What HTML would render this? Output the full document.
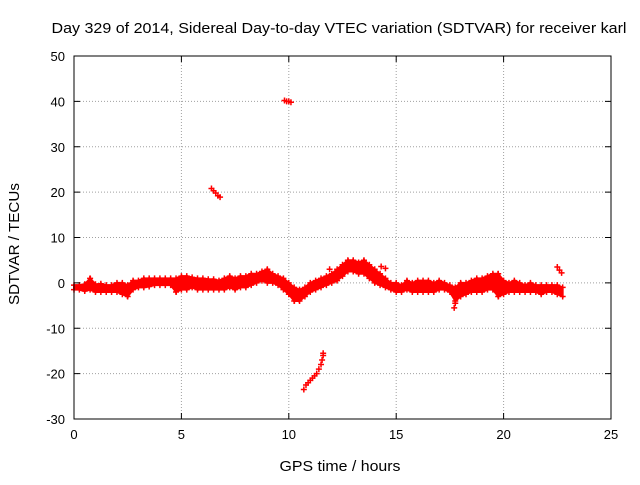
<!DOCTYPE html>
<html><head><meta charset="utf-8"><style>
html,body{margin:0;padding:0;background:#fff;}
svg text{font-family:"Liberation Sans",Arial,sans-serif;font-size:13px;fill:#000;}
svg text.big{font-size:15px;}
</style></head><body>
<svg id="chart" width="640" height="480" xmlns="http://www.w3.org/2000/svg">
<text class="big" x="339" y="33" text-anchor="middle" textLength="575" lengthAdjust="spacingAndGlyphs">Day 329 of 2014, Sidereal Day-to-day VTEC variation (SDTVAR) for receiver karl</text>
<text class="big" x="340" y="471" text-anchor="middle" textLength="121" lengthAdjust="spacingAndGlyphs">GPS time / hours</text>
<text class="big" transform="translate(19,244) rotate(-90)" text-anchor="middle" textLength="122" lengthAdjust="spacingAndGlyphs">SDTVAR / TECUs</text>
<g id="grid"></g><g id="marks"></g><g id="axes"></g>
</svg>
<script>
const xTicks=[0,5,10,15,20,25];
const yTicks=[-30,-20,-10,0,10,20,30,40,50];
const hours=[0,0.25,0.5,0.75,1,1.25,1.5,1.75,2,2.25,2.5,2.75,3,3.25,3.5,3.75,4,4.25,4.5,4.75,5,5.25,5.5,5.75,6,6.25,6.5,6.75,7,7.25,7.5,7.75,8,8.25,8.5,8.75,9,9.25,9.5,9.75,10,10.25,10.5,10.75,11,11.25,11.5,11.75,12,12.25,12.5,12.75,13,13.25,13.5,13.75,14,14.25,14.5,14.75,15,15.25,15.5,15.75,16,16.25,16.5,16.75,17,17.25,17.5,17.75,18,18.25,18.5,18.75,19,19.25,19.5,19.75,20,20.25,20.5,20.75,21,21.25,21.5,21.75,22,22.25,22.5,22.75];
const lower=[-1.5,-1.5,-1.8,-1.5,-2,-2,-2,-2,-2,-2.5,-3,-1.5,-1,-1,-0.8,-0.5,-0.5,-0.5,-0.5,-2,-1.5,-1.5,-1,-1.5,-1.5,-1.5,-1.5,-1.5,-1.5,-1,-1.5,-1,-1,-0.5,0,0.5,0,0,-0.5,-1.5,-2.5,-4,-4,-3,-2,-1.5,-1,-0.5,0,0.5,1.5,2.5,2.5,2,2,1,0,-0.5,-1,-1.5,-2,-2,-1.5,-2,-2,-2,-2,-2,-1.5,-1.5,-2,-4,-3,-2.5,-2,-2,-2,-1.5,-1.5,-3,-2.5,-2,-2,-2,-2,-2,-2,-2.5,-2,-2,-2.5,-3];
const upper=[-0.5,-0.5,-0.3,1,-0.3,-0.2,-0.5,-0.5,0,0,-0.5,0.5,0.5,1,1,1,1,1,1,1,1.5,1.5,1.2,1,1,0.8,0.8,0.5,1,1.5,1,1.5,1.5,2,2,2.5,3,2,1.5,1,0,-1,-1.5,-1,0,0.5,1,1.5,2,3,4,5,5,4.5,5,4,3,2,1,0,0,-0.5,0.5,0,0.5,0.5,0.5,0,0.5,0,-0.5,-1,0,0,0.5,1,1,1.5,2,2,0.5,0,0.5,0,-0.5,0,-0.5,-0.5,-0.5,-0.5,-0.5,-1];
const outHours=[6.4,6.5,6.6,6.7,6.8,9.8,9.9,10,10.1,10.7,10.8,10.9,11,11.1,11.2,11.3,11.4,11.5,11.55,11.6,11.6,22.5,22.6,22.7,14.3,14.5,17.7,17.75,11.9];
const outValues=[20.8,20.3,19.8,19.2,18.9,40.2,40,40,39.8,-23.5,-22.5,-22,-21.5,-21,-20.5,-20,-19,-18,-17,-16,-15.5,3.5,2.8,2.2,3.6,3.2,-5.5,-4.5,3];
const X0=74,X1=611,Y0=419,Y1=56;
const xs=v=>X0+(v-0)/25*(X1-X0);
const ys=v=>Y0-(v+30)/80*(Y0-Y1);
const NS="http://www.w3.org/2000/svg";
function mk(tag,attrs,parent){const e=document.createElementNS(NS,tag);for(const k in attrs)e.setAttribute(k,attrs[k]);parent.appendChild(e);return e;}
const grid=document.getElementById('grid'),marks=document.getElementById('marks'),axes=document.getElementById('axes');
xTicks.forEach(t=>{const x=xs(t);
 if(t>0&&t<25){const g=mk('line',{x1:x,x2:x,y1:Y1,y2:Y0,stroke:'#a0a0a0','stroke-dasharray':'1,2'},grid);
 
 }
 mk('line',{x1:x,x2:x,y1:Y0,y2:Y0-6,stroke:'#000'},axes);mk('line',{x1:x,x2:x,y1:Y1,y2:Y1+6,stroke:'#000'},axes);
 const l=mk('text',{x:x,y:Y0+20,'text-anchor':'middle'},axes);l.textContent=t;
 
 });
yTicks.forEach(t=>{const y=ys(t);
 if(t>-30&&t<50){const g=mk('line',{x1:X0,x2:X1,y1:y,y2:y,stroke:'#a0a0a0','stroke-dasharray':'1,2'},grid);
 
 }
 mk('line',{x1:X0,x2:X0+6,y1:y,y2:y,stroke:'#000'},axes);mk('line',{x1:X1,x2:X1-6,y1:y,y2:y,stroke:'#000'},axes);
 const l=mk('text',{x:X0-9,y:y+5,'text-anchor':'end'},axes);l.textContent=t;
 
 });
const frame=mk('rect',{x:X0,y:Y1,width:X1-X0,height:Y0-Y1,fill:'none',stroke:'#000'},axes);


function plus(x,y){const p=mk('path',{d:`M${x-3},${y}h6M${x},${y-3}v6`,stroke:'#f00','stroke-width':1.5,fill:'none'},marks);
 
 }
for(let i=0;i<hours.length;i++){
 const x=xs(hours[i]);
 if(i<hours.length-1){const xn=xs(hours[i+1]);
  const band=mk('polygon',{points:`${x},${ys(upper[i])} ${xn},${ys(upper[i+1])} ${xn},${ys(lower[i+1])} ${x},${ys(lower[i])}`,fill:'#f00',stroke:'#f00','stroke-width':2},marks);
  
  }
 plus(x,ys(upper[i]));plus(x,ys(lower[i]));
}
for(let i=0;i<outHours.length;i++){plus(xs(outHours[i]),ys(outValues[i]));}
</script>
</body></html>
